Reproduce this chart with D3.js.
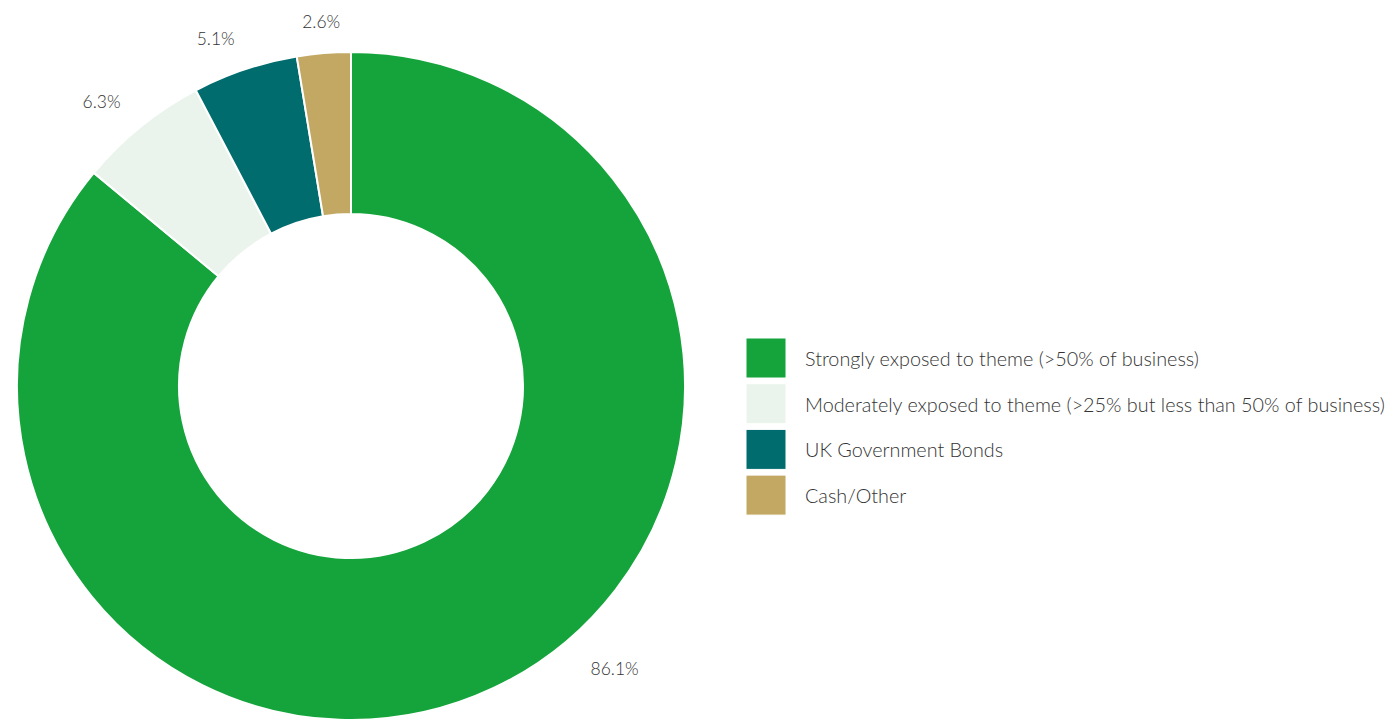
<!DOCTYPE html>
<html>
<head>
<meta charset="utf-8">
<script src="https://cdn.jsdelivr.net/npm/d3@7.9.0/dist/d3.min.js"></script>
<style>
  body { margin: 0; background: #fff; }
  svg text { font-family: Lato, "Open Sans", sans-serif; font-weight: 300; fill: #333; }
</style>
</head>
<body>
<svg width="1391" height="721"></svg>
<script>
const categories = [
    'Strongly exposed to theme (>50% of business)',
    'Moderately exposed to theme (>25% but less than 50% of business)',
    'UK Government Bonds',
    'Cash/Other'
];
const values = [86.1, 6.3, 5.1, 2.6];
const colours = ['#15a43b', '#eaf4ec', '#016c6e', '#c2a862'];

const width = 1391, height = 721;
const cx = 351, cy = 386;
const outerR = 334, innerR = 172, labelR = 366;

const svg = d3.select('svg');
const color = d3.scaleOrdinal().domain(categories).range(colours);

let pie = d3.pie().sort(null).value(d => d.value);
let arcData = pie(categories.map((c, i) => ({name: c, value: values[i]})));
let arcGenerator = d3.arc().innerRadius(innerR).outerRadius(outerR);

const g = svg.append('g').attr('transform', `translate(${cx},${cy})`);

g.selectAll('path')
    .data(arcData)
    .join('path')
    .attr('d', arcGenerator)
    .attr('fill', d => color(d.data.name))
    .attr('stroke', '#fff')
    .attr('stroke-width', 2);

// labels sit outside the ring; slide along the circle if they would fall off the bottom
const maxY = height - 53 - cy;
g.selectAll('text.pct')
    .data(arcData)
    .join('text')
    .attr('class', 'pct')
    .attr('dominant-baseline', 'central')
    .style('font-size', '17.5px')
    .each(function(d) {
        let a = (d.startAngle + d.endAngle) / 2;
        let r = labelR;
        let y = -Math.cos(a) * r;
        if (y > maxY) {
            r = 370;
            a = Math.PI - Math.acos(maxY / r);
            y = maxY;
        }
        const s = Math.sin(a);
        const anchor = Math.abs(s) < 0.1 ? 'middle' : (s < 0 ? 'end' : 'start');
        d3.select(this).attr('x', s * r).attr('y', y).attr('text-anchor', anchor);
    })
    .text(d => d.data.value.toFixed(1) + '%');

// legend
const legend = svg.append('g').attr('transform', 'translate(746,338)');
const rows = legend.selectAll('g')
    .data(categories)
    .join('g')
    .attr('transform', (d, i) => `translate(0,${i * 45.7})`);

rows.append('rect')
    .attr('width', 40).attr('height', 40)
    .attr('fill', d => color(d))
    .attr('stroke', '#fff').attr('stroke-width', 1);

rows.append('text')
    .attr('x', 59).attr('y', 20)
    .attr('dominant-baseline', 'central')
    .style('font-size', '19.8px')
    .text(d => d);
</script>
</body>
</html>
